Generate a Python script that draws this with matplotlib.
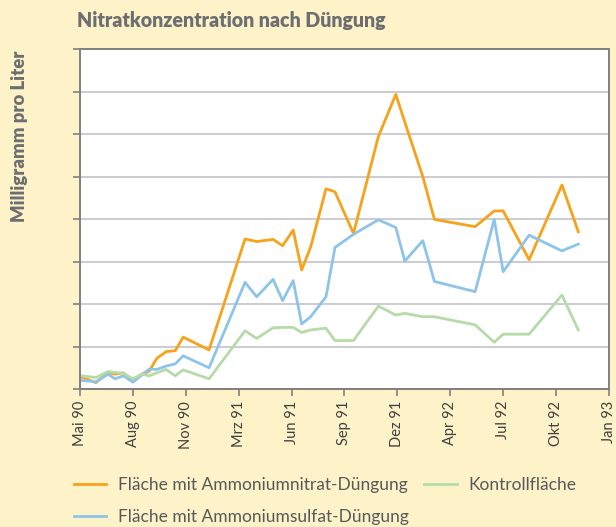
import matplotlib.pyplot as plt

plt.rcParams['font.family'] = ['Lato', 'DejaVu Sans']

# Data (x in tick-interval units, 0 = Mai 90 ... 10 = Jan 93)
tick_labels = ["Mai 90", "Aug 90", "Nov 90", "Mrz 91", "Jun 91", "Sep 91",
               "Dez 91", "Apr 92", "Jul 92", "Okt 92", "Jan 93"]

x = [0.03, 0.30, 0.53, 0.66, 0.82, 1.00, 1.17, 1.31, 1.45, 1.63, 1.80, 1.95,
     2.44, 3.12, 3.34, 3.65, 3.83, 4.03, 4.19, 4.36, 4.65, 4.82, 5.17, 5.64,
     5.97, 6.14, 6.48, 6.70, 7.47, 7.83, 8.00, 8.49, 9.11, 9.42]

nitrat = [2.8, 1.5, 3.9, 3.5, 3.8, 2.0, 3.5, 4.2, 7.2, 8.8, 9.0, 12.2,
          9.2, 35.3, 34.7, 35.2, 33.7, 37.4, 28.0, 33.4, 47.1, 46.4, 36.6, 59.4,
          69.3, 62.8, 50.0, 39.9, 38.2, 41.9, 41.9, 30.4, 48.0, 37.0]

sulfat = [2.0, 1.7, 3.5, 2.4, 3.1, 1.6, 3.3, 4.7, 4.6, 5.4, 5.9, 7.8,
          5.0, 25.1, 21.7, 25.8, 20.8, 25.5, 15.3, 17.0, 21.7, 33.3, 36.4, 39.8,
          38.0, 30.1, 34.9, 25.3, 22.9, 39.9, 27.6, 36.2, 32.5, 34.1]

kontrolle = [3.1, 2.7, 4.1, 3.9, 3.7, 2.4, 3.5, 3.1, 3.8, 4.6, 3.1, 4.5,
             2.4, 13.7, 11.9, 14.4, 14.5, 14.5, 13.3, 13.9, 14.3, 11.4, 11.4, 19.5,
             17.4, 17.8, 17.0, 17.0, 15.1, 11.0, 12.9, 12.9, 22.1, 13.9]

bg = "#fef2c8"
gray = "#6d6e71"

fig = plt.figure(figsize=(6.16, 5.27), dpi=100, facecolor=bg)
ax = fig.add_axes([80 / 616, 1 - 389 / 527, 529 / 616, 340 / 527])
ax.set_facecolor("white")

ax.plot(x, nitrat, color="#f7a21b", lw=2.0, label="Fläche mit Ammoniumnitrat-Düngung")
ax.plot(x, sulfat, color="#8ec3ea", lw=2.0, label="Fläche mit Ammoniumsulfat-Düngung")
ax.plot(x, kontrolle, color="#b6dba9", lw=2.0, label="Kontrollfläche")

ax.set_xlim(0, 10)
ax.set_ylim(0, 80)
ax.set_yticks(range(0, 81, 10))
ax.set_yticklabels([])
ax.set_xticks(range(len(tick_labels)))
ax.set_xticklabels(tick_labels, rotation=90, fontsize=10.5, color="#404040")
ax.grid(axis="y", color="#c4c4c8", lw=1.2)
ax.set_axisbelow(True)
ax.tick_params(direction="out", length=5, width=1.2, color="#808080")
for s in ax.spines.values():
    s.set_color("#808080")
    s.set_linewidth(1.4)

fig.text(77 / 616, 1 - 20 / 527, "Nitratkonzentration nach Düngung",
         fontsize=14.1, fontweight="heavy", color=gray, va="center", ha="left")
fig.text(20 / 616, 1 - 136 / 527, "Milligramm pro Liter", rotation=90,
         fontsize=13.3, fontweight="heavy", color=gray, va="center", ha="center")

fig.legend(loc="upper left", bbox_to_anchor=(58 / 616, 1 - 461 / 527), ncol=2,
           frameon=False, fontsize=12.5, labelcolor="#58595b", handlelength=1.85,
           handletextpad=0.7, columnspacing=0.9, labelspacing=0.95)

fig.savefig("out.png", dpi=100, facecolor=bg)
